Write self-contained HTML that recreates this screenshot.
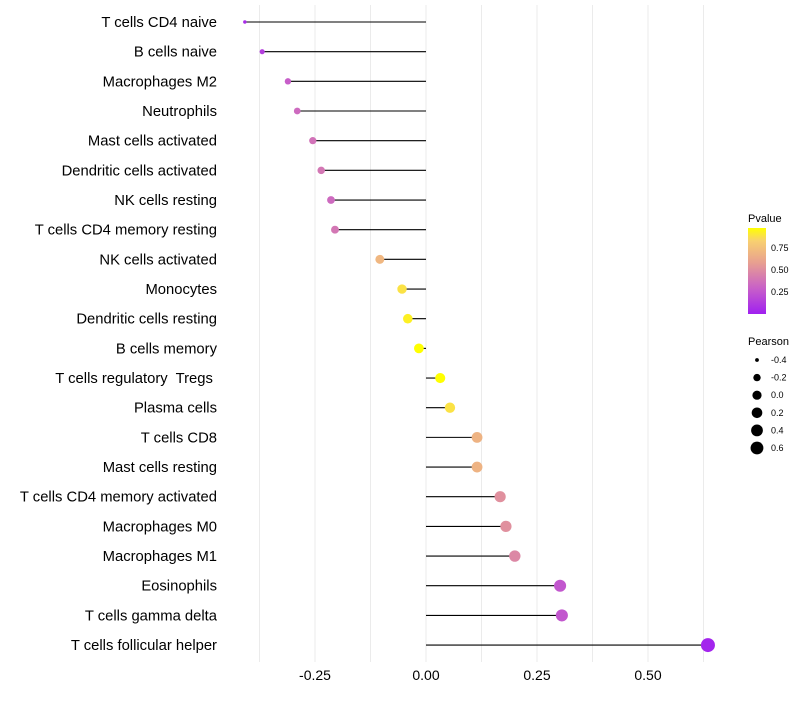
<!DOCTYPE html>
<html><head><meta charset="utf-8"><style>
body{margin:0;background:#fff;font-family:"Liberation Sans",sans-serif}
text{white-space:pre}
</style></head><body>
<svg id="chart" width="800" height="700" xmlns="http://www.w3.org/2000/svg" font-family="Liberation Sans, sans-serif">
<defs><linearGradient id="pg" x1="0" y1="1" x2="0" y2="0">
<stop offset="0" stop-color="#a020f0"/><stop offset="0.3" stop-color="#c860c8"/><stop offset="0.6" stop-color="#e8a090"/><stop offset="0.85" stop-color="#f8d070"/><stop offset="1" stop-color="#ffff00"/></linearGradient></defs>
<g id="grid"></g>
<g id="marks"></g>
<g id="ylabels"></g>
<g id="xlabels"></g>
<g>
<text x="748" y="222" font-size="11">Pvalue</text>
<rect x="748" y="228" width="18" height="86" fill="url(#pg)"/>
<text x="771" y="251" font-size="9">0.75</text>
<text x="771" y="273" font-size="9">0.50</text>
<text x="771" y="295" font-size="9">0.25</text>
</g>
<g id="sizeleg">
<text x="748" y="345" font-size="11">Pearson</text>
</g>
</svg>
<script>
const cells=["T cells CD4 naive","B cells naive","Macrophages M2","Neutrophils","Mast cells activated","Dendritic cells activated","NK cells resting","T cells CD4 memory resting","NK cells activated","Monocytes","Dendritic cells resting","B cells memory","T cells regulatory  Tregs ","Plasma cells","T cells CD8","Mast cells resting","T cells CD4 memory activated","Macrophages M0","Macrophages M1","Eosinophils","T cells gamma delta","T cells follicular helper"];
const pearson=[-0.408,-0.369,-0.311,-0.29,-0.255,-0.236,-0.214,-0.205,-0.104,-0.054,-0.041,-0.016,0.032,0.054,0.115,0.115,0.167,0.18,0.2,0.302,0.306,0.635];
const pvalue=[0.05,0.12,0.25,0.3,0.33,0.35,0.3,0.35,0.62,0.78,0.82,0.88,0.86,0.78,0.6,0.6,0.45,0.45,0.42,0.22,0.22,0.02];
const xTicks=[-0.25,0,0.25,0.5];
const xTickLabels=["-0.25","0.00","0.25","0.50"];
const sizeLegend=[-0.4,-0.2,0.0,0.2,0.4,0.6];
const NS="http://www.w3.org/2000/svg";
const X=v=>426+v*444, Y=i=>22+i*29.67, R=v=>1.5+5.5*Math.sqrt(Math.max(0,(v+0.41)/1.045));
function col(p){const s=[[0,[160,32,240]],[0.3,[200,96,200]],[0.6,[232,160,144]],[0.85,[248,208,112]],[1,[255,255,0]]];
let t=Math.min(1,Math.max(0,p/0.86));for(let k=1;k<s.length;k++){if(t<=s[k][0]){const a=s[k-1],b=s[k],f=(t-a[0])/(b[0]-a[0]);return "rgb("+a[1].map((c,j)=>Math.round(c+(b[1][j]-c)*f)).join(",")+")";}}return "rgb(255,255,0)";}
function mk(t,at,p){const e=document.createElementNS(NS,t);for(const k in at)e.setAttribute(k,at[k]);p.appendChild(e);return e;}
const g=document.getElementById('grid');
for(let v=-0.375;v<=0.63;v+=0.125){const l=mk('line',{x1:X(v),x2:X(v),y1:5,y2:662,stroke:'#ebebeb','stroke-width':1},g);

}
const m=document.getElementById('marks'),yl=document.getElementById('ylabels'),xl=document.getElementById('xlabels');
cells.forEach((c,i)=>{
const ln=mk('line',{x1:X(0),x2:X(pearson[i]),y1:Y(i),y2:Y(i),stroke:'#000','stroke-width':1.1},m);


const d=mk('circle',{cx:X(pearson[i]),cy:Y(i),r:R(pearson[i]),fill:col(pvalue[i])},m);


const t=mk('text',{x:217,y:Y(i)+5,'text-anchor':'end','font-size':14.8,fill:'#000'},yl);t.textContent=c;


});
xTicks.forEach((v,i)=>{const t=mk('text',{x:X(v),y:680,'text-anchor':'middle','font-size':14,fill:'#000'},xl);t.textContent=xTickLabels[i];

});
const sl=document.getElementById('sizeleg');
sizeLegend.forEach((v,i)=>{const y=360+i*17.6;const c=mk('circle',{cx:757,cy:y,r:R(v)*0.93,fill:'#000'},sl);


const t=mk('text',{x:771,y:y+3,'font-size':9},sl);t.textContent=v.toFixed(1);

});
</script>
</body></html>
